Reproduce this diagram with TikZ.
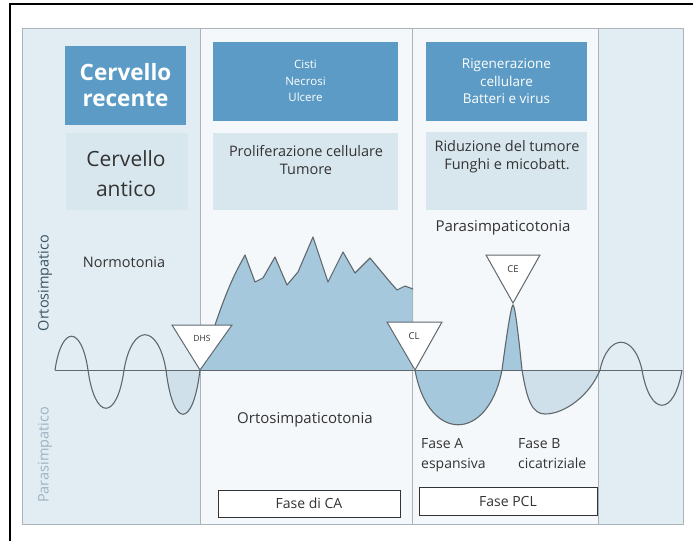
\documentclass[tikz,border=0pt]{standalone}
\usepackage{fontspec}
\setmainfont{Open Sans}
\definecolor{hdrblue}{HTML}{5B9BC5}
\definecolor{paleblue}{HTML}{E2EDF3}
\definecolor{boxblue}{HTML}{D8E6EE}
\definecolor{midwhite}{HTML}{F5F8FA}
\definecolor{fillmid}{HTML}{A6C8DC}
\definecolor{filllight}{HTML}{CFE0EA}
\definecolor{curvegray}{HTML}{60686E}
\definecolor{txtgray}{HTML}{333333}
\definecolor{divgray}{HTML}{A9B4BB}
\definecolor{paratxt}{HTML}{9DB3C2}
\definecolor{ortotxt}{HTML}{3A5363}
\begin{document}
\begin{tikzpicture}[x=1pt,y=-1pt,
  hdrbox/.style={fill=hdrblue, draw=none, text=white, align=center, inner sep=0pt},
  lightbox/.style={fill=boxblue, draw=none, inner sep=0pt},
  lbl/.style={text=txtgray, align=center, inner sep=0pt, font=\fontsize{14.5}{18}\selectfont},
  lblleft/.style={text=txtgray, align=left, inner sep=0pt, anchor=north west, font=\fontsize{14}{20}\selectfont},
  tri/.style={fill=white, draw=curvegray, line width=1pt, line join=miter},
  trilbl/.style={text=txtgray, inner sep=0pt, font=\fontsize{8.5}{10}\selectfont},
  curve/.style={draw=curvegray, line width=1.1pt},
  fasebox/.style={fill=white, draw=txtgray, line width=0.9pt, inner sep=0pt, text=txtgray, font=\fontsize{14}{16}\selectfont}
]
\useasboundingbox (0,0) rectangle (693,541);
% outer frame
\fill[white] (0,0) rectangle (693,541);
\draw[black, line width=1.4pt] (10,541) -- (10,4) -- (693,4);
% panel
\node[draw=divgray, fill=paleblue, line width=1pt, minimum width=661pt, minimum height=496pt, inner sep=0pt] (panel) at (352.5,276) {};
\fill[midwhite] (200,28.5) rectangle (598,523.5);
% dividers
\coordinate (d1t) at (200,28); \coordinate (d1b) at (200,524);
\coordinate (d2t) at (412,28); \coordinate (d2b) at (412,524);
\coordinate (d3t) at (598,28); \coordinate (d3b) at (598,524);
% header boxes
\node[hdrbox, minimum width=121pt, minimum height=79pt, font=\fontsize{22.5}{26}\selectfont\bfseries] (hrecent) at (125.5,85) {Cervello\\recente};
\node[hdrbox, minimum width=185pt, minimum height=79pt, font=\fontsize{11.5}{16.5}\selectfont] (hnecro) at (305.5,81) {Cisti\\Necrosi\\Ulcere};
\node[hdrbox, minimum width=161pt, minimum height=79pt, font=\fontsize{13.5}{17.5}\selectfont] (hrigen) at (506.5,81.5) {Rigenerazione\\cellulare\\Batteri e virus};
% light boxes
\node[lightbox, minimum width=122pt, minimum height=77pt] (lantico) at (127,171.5) {};
\node[lightbox, minimum width=185pt, minimum height=77pt] (lprolif) at (305.5,171.5) {};
\node[lightbox, minimum width=161pt, minimum height=78pt] (lridu) at (506.5,171) {};
\node[text=txtgray, align=center, inner sep=0pt, font=\fontsize{21}{30}\selectfont] (tantico) at (126,174) {Cervello\\antico};
\node[lbl] (tprolif) at (306,160) {Proliferazione cellulare\\Tumore};
\node[lbl] (tridu) at (507,157) {Riduzione del tumore\\Funghi e micobatt.};
% fills
\fill[filllight] (166,370) .. controls (173,429) and (193,429) .. (200,370) -- cycle;
\fill[fillmid] (200,370) .. controls (212,335) and (222,300) .. (237,270) -- (245,255) -- (255,282) -- (263,278) -- (275,257) -- (287,285) -- (298,272) -- (313,237) -- (328,282) -- (343,252) -- (355,273) -- (370,258) -- (390,282) -- (397,290) -- (405,286) -- (413,289) -- (413,370) -- cycle;
\fill[fillmid] (415,370) .. controls (428,443) and (488,443) .. (502,370) -- cycle;
\fill[fillmid] (502,370) .. controls (506,340) and (511,305) .. (513,305) .. controls (515,305) and (519,340) .. (522,370) -- cycle;
\fill[filllight] (522,370) .. controls (527,400) and (532,414) .. (545,414) .. controls (565,414) and (590,395) .. (600,370) -- cycle;
% divider lines
\draw[divgray, line width=0.9pt] (d1t) -- (d1b);
\draw[divgray, line width=0.9pt] (d2t) -- (d2b);
\draw[divgray, line width=0.9pt] (d3t) -- (d3b);
% baseline
\coordinate (bl) at (55,370); \coordinate (br) at (682,370);
\draw[curvegray, line width=1pt] (bl) -- (br);
% curve
\draw[curve, line join=round] (bl) .. controls (61.6,325) and (81.4,325) .. (88,370)
  .. controls (95,421) and (117,421) .. (124,370)
  .. controls (132,323) and (158,323) .. (166,370)
  .. controls (173,429) and (193,429) .. (200,370)
  .. controls (212,335) and (222,300) .. (237,270) -- (245,255) -- (255,282) -- (263,278) -- (275,257) -- (287,285) -- (298,272) -- (313,237) -- (328,282) -- (343,252) -- (355,273) -- (370,258) -- (390,282) -- (397,290) -- (405,286) -- (413,289);
\draw[curve] (415,370) .. controls (428,443) and (488,443) .. (502,370)
  .. controls (506,340) and (511,305) .. (513,305) .. controls (515,305) and (519,340) .. (522,370)
  .. controls (527,400) and (532,414) .. (545,414) .. controls (565,414) and (590,395) .. (600,370)
  .. controls (608,333) and (634,333) .. (642,370)
  .. controls (650,417) and (674,417) .. (br);
% triangles
\draw[tri] (172,325) -- (232,325) -- (200,370) -- cycle;
\node[trilbl] (dhs) at (202,338) {DHS};
\draw[tri] (387,322) -- (442,322) -- (415,370) -- cycle;
\node[trilbl, font=\fontsize{9.5}{10}\selectfont] (cl) at (414,336) {CL};
\draw[tri] (486,255) -- (540,255) -- (513,303) -- cycle;
\node[trilbl, font=\fontsize{9.5}{10}\selectfont] (ce) at (513,269) {CE};
% texts
\node[lbl] (normo) at (124,262) {Normotonia};
\node[lbl, font=\fontsize{15}{18}\selectfont] (paras) at (503,228) {Parasimpaticotonia};
\node[lbl, font=\fontsize{15}{18}\selectfont] (orto) at (305,420) {Ortosimpaticotonia};
\node[lblleft] (fasea) at (421,438) {Fase A\\espansiva};
\node[lblleft] (faseb) at (518,438) {Fase B\\cicatriziale};
\node[text=ortotxt, rotate=90, inner sep=0pt, font=\fontsize{14.5}{16}\selectfont] (vorto) at (45,283) {Ortosimpatico};
\node[text=paratxt, rotate=90, inner sep=0pt, font=\fontsize{14.5}{16}\selectfont] (vpara) at (45,455) {Parasimpatico};
% fase boxes
\node[fasebox, minimum width=182pt, minimum height=27pt] (faseca) at (309,503.5) {Fase di CA};
\node[fasebox, minimum width=178pt, minimum height=28pt] (fasepcl) at (508,501) {Fase PCL};
\end{tikzpicture}
\end{document}
